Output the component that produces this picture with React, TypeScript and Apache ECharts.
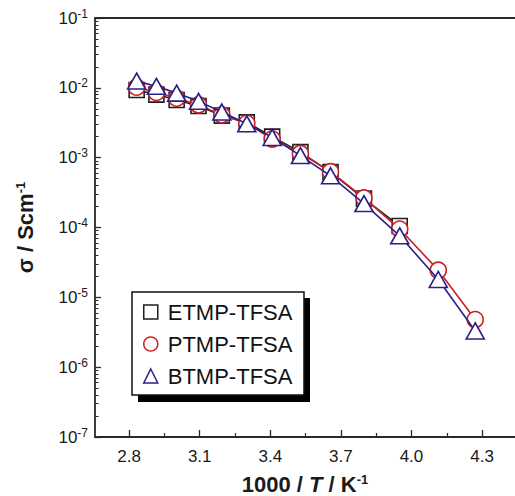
import React, { useEffect, useRef } from "react";
import * as echarts from "echarts";

const xValues = [2.832, 2.916, 3.002, 3.095, 3.194, 3.3, 3.408, 3.528, 3.656, 3.798, 3.95, 4.114, 4.271];
const etmp = [9.3e-3, 8.0e-3, 6.7e-3, 5.5e-3, 4.0e-3, 3.2e-3, 2.0e-3, 1.2e-3, 6.2e-4, 2.6e-4, 1.05e-4];
const ptmp = [1.02e-2, 8.6e-3, 7.1e-3, 5.7e-3, 4.1e-3, 3.1e-3, 1.85e-3, 1.15e-3, 6.3e-4, 2.65e-4, 9.5e-5, 2.45e-5, 4.8e-6];
const btmp = [1.25e-2, 1.05e-2, 8.4e-3, 6.4e-3, 4.5e-3, 3.05e-3, 1.95e-3, 1.07e-3, 5.5e-4, 2.2e-4, 7.6e-5, 1.8e-5, 3.3e-6];

const seriesNames = ["ETMP-TFSA", "PTMP-TFSA", "BTMP-TFSA"];
const xMajorTicks = [2.8, 3.1, 3.4, 3.7, 4.0, 4.3];
const xMinorTicks = [2.95, 3.25, 3.55, 3.85, 4.15];
const yDecades = [-7, -6, -5, -4, -3, -2, -1];

const FONT = "'Liberation Sans', Arial, Helvetica, sans-serif";
const AXIS_COLOR = "#2a2a2a";

export default function App() {
  const ref = useRef<HTMLDivElement>(null);
  useEffect(() => {
    if (!ref.current) return;
    const chart = echarts.init(ref.current, null, { renderer: "svg" });
    const pair = (ys: number[]) => ys.map((y, i) => [xValues[i], y]);
    const minorLog: number[] = [];
    for (let n = yDecades[0]; n < yDecades[yDecades.length - 1]; n++) {
      for (let k = 2; k <= 9; k++) minorLog.push(n + Math.log10(k));
    }
    const colors = ["#1e1e1e", "#cc1f26", "#2b2088"];
    const symbols = ["rect", "circle", "triangle"];
    const sizes: any[] = [15, 16, [18, 16]];
    const datas = [etmp, ptmp, btmp];
    const xMin = 2.655;
    const xMax = 4.44;

    chart.setOption({
      animation: false,
      textStyle: { fontFamily: FONT },
      grid: { left: 95, right: 0, top: 18, bottom: 59, outerBoundsMode: "none", containLabel: false },
      xAxis: [
        {
          type: "value",
          min: xMin,
          max: xMax,
          position: "bottom",
          axisLine: { show: true, lineStyle: { color: AXIS_COLOR, width: 1.8 } },
          axisTick: { show: true, inside: true, length: 7, customValues: xMajorTicks, lineStyle: { color: AXIS_COLOR, width: 1.3 } },
          axisLabel: {
            customValues: xMajorTicks,
            formatter: (v: number) => v.toFixed(1),
            fontSize: 17,
            color: "#1a1a1a",
            margin: 11,
            fontFamily: FONT,
          },
          splitLine: { show: false },
          name: "{n|1000 / }{i|T}{n| / K}{s|-1}",
          nameLocation: "middle",
          nameGap: 36,
          nameTextStyle: {
            rich: {
              n: { fontSize: 22, fontWeight: "bold", fontFamily: FONT, color: "#1a1a1a" },
              i: { fontSize: 22, fontWeight: "bold", fontStyle: "italic", fontFamily: FONT, color: "#1a1a1a" },
              s: { fontSize: 13, fontWeight: "bold", fontFamily: FONT, color: "#1a1a1a", padding: [0, 0, 10, 0] },
            },
          },
        },
        {
          type: "value",
          min: xMin,
          max: xMax,
          position: "bottom",
          axisLine: { show: false },
          axisTick: { show: true, inside: true, length: 4, customValues: xMinorTicks, lineStyle: { color: AXIS_COLOR, width: 1.2 } },
          axisLabel: { show: false },
          splitLine: { show: false },
        },
        {
          type: "value",
          min: xMin,
          max: xMax,
          position: "top",
          axisLine: { show: true, lineStyle: { color: AXIS_COLOR, width: 1.8 } },
          axisTick: { show: false },
          axisLabel: { show: false },
          splitLine: { show: false },
        },
      ],
      yAxis: [
        {
          type: "log",
          logBase: 10,
          min: 1e-7,
          max: 1e-1,
          splitNumber: 6,
          position: "left",
          axisLine: { show: true, lineStyle: { color: AXIS_COLOR, width: 1.8 } },
          axisTick: { show: true, inside: true, length: 6, lineStyle: { color: AXIS_COLOR, width: 1.3 } },
          axisLabel: {
            formatter: (v: number) => `{b|10}{s|${Math.round(Math.log10(v))}}`,
            margin: 7,
            rich: {
              b: { fontSize: 17, fontFamily: FONT, color: "#1a1a1a" },
              s: { fontSize: 12, fontFamily: FONT, color: "#1a1a1a", padding: [0, 0, 9, 0] },
            },
          },
          splitLine: { show: false },
          name: "{n|σ / Scm}{s|-1}",
          nameLocation: "middle",
          nameGap: 58,
          nameRotate: 90,
          nameTextStyle: {
            rich: {
              n: { fontSize: 22, fontWeight: "bold", fontFamily: FONT, color: "#1a1a1a" },
              s: { fontSize: 13, fontWeight: "bold", fontFamily: FONT, color: "#1a1a1a", padding: [0, 0, 10, 0] },
            },
          },
        },
        {
          type: "value",
          min: -7,
          max: -1,
          position: "left",
          axisLine: { show: false },
          axisTick: { show: true, inside: true, length: 3.5, customValues: minorLog, lineStyle: { color: AXIS_COLOR, width: 1 } },
          axisLabel: { show: false },
          splitLine: { show: false },
        },
      ],
      graphic: [
        { type: "rect", z: 5, shape: { x: 138, y: 298, width: 172, height: 104 }, style: { fill: "#000" } },
        { type: "rect", z: 6, shape: { x: 132, y: 292, width: 172, height: 103 }, style: { fill: "#fff", stroke: "#111", lineWidth: 1.5 } },
      ],
      legend: {
        z: 10,
        orient: "vertical",
        left: 143,
        top: 301,
        padding: 0,
        itemWidth: 14,
        itemHeight: 14,
        itemGap: 10,
        textStyle: { fontSize: 22, lineHeight: 22, fontFamily: FONT, color: "#111", padding: [0, 0, 0, 5] },
        data: seriesNames.map((n, i) => ({
          name: n,
          icon: symbols[i],
          itemStyle: { color: "#fff", borderColor: colors[i], borderWidth: 1.5 },
        })),
      },
      series: datas.map((d, i) => ({
        type: "line",
        name: seriesNames[i],
        xAxisIndex: 0,
        yAxisIndex: 0,
        data: pair(d),
        symbol: symbols[i],
        symbolSize: sizes[i],
        showAllSymbol: true,
        lineStyle: { color: colors[i], width: 1.6 },
        itemStyle: { color: "#fff", borderColor: colors[i], borderWidth: 1.6 },
        z: 2 + i,
      })),
    });
    return () => chart.dispose();
  }, []);
  return <div ref={ref} style={{ position: "fixed", left: 0, top: 0, width: 515, height: 496, background: "#fff" }} />;
}
